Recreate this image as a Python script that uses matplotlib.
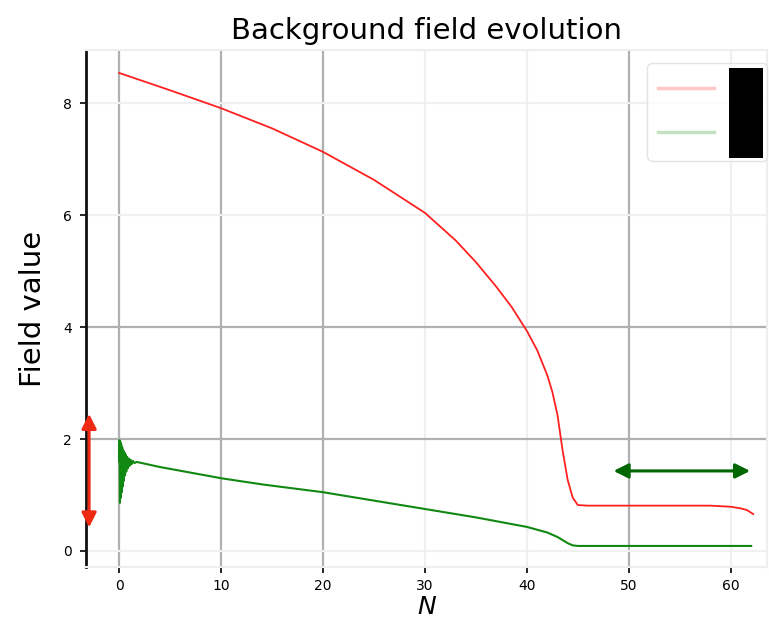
import matplotlib
matplotlib.use("Agg")
import matplotlib.pyplot as plt
from matplotlib.patches import Rectangle
from matplotlib.lines import Line2D

# e-folds N and field values
n_phi = [0, 5, 10, 15, 20, 25, 30, 33, 35, 37, 38.5, 40, 41, 42, 42.5, 43, 43.5,
         44, 44.5, 45, 46, 50, 55, 58, 60, 61, 61.6, 62.2]
phi = [8.54, 8.23, 7.91, 7.55, 7.13, 6.63, 6.04, 5.55, 5.16, 4.72, 4.36, 3.93,
       3.59, 3.14, 2.84, 2.43, 1.80, 1.27, 0.95, 0.82, 0.81, 0.81, 0.81, 0.81,
       0.79, 0.76, 0.73, 0.66]

n_chi = [0.00, 0.04, 0.08, 0.12, 0.16, 0.20, 0.25, 0.30, 0.35, 0.40, 0.46, 0.52,
         0.58, 0.64, 0.70, 0.78, 0.86, 0.94, 1.02, 1.12, 1.22, 1.35, 1.50, 1.70,
         2.0, 4, 7, 10, 14, 20, 25, 30, 35, 40, 42, 43, 44, 44.5, 45, 62]
chi = [1.60, 1.98, 0.86, 1.95, 0.95, 1.90, 1.05, 1.85, 1.15, 1.80, 1.25, 1.76,
       1.35, 1.72, 1.42, 1.68, 1.48, 1.65, 1.52, 1.63, 1.55, 1.61, 1.57, 1.59,
       1.58, 1.50, 1.40, 1.30, 1.19, 1.05, 0.90, 0.75, 0.60, 0.43, 0.33, 0.25,
       0.14, 0.10, 0.09, 0.09]

x_ticks = [0, 10, 20, 30, 40, 50, 60]
y_ticks = [0, 2, 4, 6, 8]
x_strong = [0, 10, 20, 50]
y_strong = [2, 4]

fig = plt.figure(figsize=(7.69, 6.36), dpi=100)
ax = fig.add_axes([0.112, 0.1085, 0.886, 0.8129])

ax.set_xlim(-3.24, 63.6)
ax.set_ylim(-0.286, 8.95)

# grid: some lines strong, others barely visible
for x in x_ticks:
    ax.axvline(x, color="#b0b0b0" if x in x_strong else "#f0f0f0",
               lw=1.6, zorder=0)
for y in y_ticks:
    ax.axhline(y, color="#b0b0b0" if y in y_strong else "#f0f0f0",
               lw=1.6, zorder=0)

ax.plot(n_phi, phi, color="#ff2020", lw=1.3, zorder=3)
ax.plot(n_chi, chi, color="#118811", lw=1.5, zorder=3)

ax.set_xticks(x_ticks)
ax.set_yticks(y_ticks)
ax.tick_params(axis="x", labelsize=10, length=4, width=1.2, pad=5)
ax.tick_params(axis="y", labelsize=10, length=4, width=1.2, pad=6)
for t, v in zip(ax.xaxis.get_major_ticks(), x_ticks):
    t.tick1line.set_color("#222222" if v in x_strong else "#e0e0e0")
for t, v in zip(ax.yaxis.get_major_ticks(), y_ticks):
    t.tick1line.set_color("#222222" if v in y_strong else "#e0e0e0")

for side in ["top", "right", "bottom"]:
    ax.spines[side].set_color("#eeeeee")
    ax.spines[side].set_linewidth(1.5)
ax.spines["left"].set_color("#111111")
ax.spines["left"].set_linewidth(2.0)

ax.set_title("Background field evolution", fontsize=21, pad=8)
ax.set_ylabel("Field value", fontsize=21, labelpad=12)
ax.set_xlabel("$N$", fontsize=18, labelpad=1)

# range indicators
ax.annotate("", xy=(-2.95, 2.45), xytext=(-2.95, 0.42),
            arrowprops=dict(arrowstyle="<|-|>", color="#ee2a14", lw=2.2,
                            mutation_scale=22, shrinkA=0, shrinkB=0),
            annotation_clip=False, zorder=5)
ax.annotate("", xy=(48.5, 1.43), xytext=(61.9, 1.43),
            arrowprops=dict(arrowstyle="<|-|>", color="#006600", lw=2.2,
                            mutation_scale=22, shrinkA=0, shrinkB=0),
            zorder=5)

handles = [Line2D([], [], color="#ff2020", lw=2.5, alpha=0.25),
           Line2D([], [], color="#118811", lw=2.5, alpha=0.25)]
leg = ax.legend(handles, [r"$\phi$", r"$\chi$"], loc="upper right",
                bbox_to_anchor=(1.0, 0.975), borderaxespad=0, fontsize=20,
                handlelength=2.0, frameon=True)
leg.get_frame().set_edgecolor("#dddddd")

# redaction block over the legend labels
ax.add_patch(Rectangle((0.944, 0.791), 0.049, 0.174, transform=ax.transAxes,
                       facecolor="black", edgecolor="none", zorder=10,
                       clip_on=False))

fig.savefig("out.png", dpi=100)
